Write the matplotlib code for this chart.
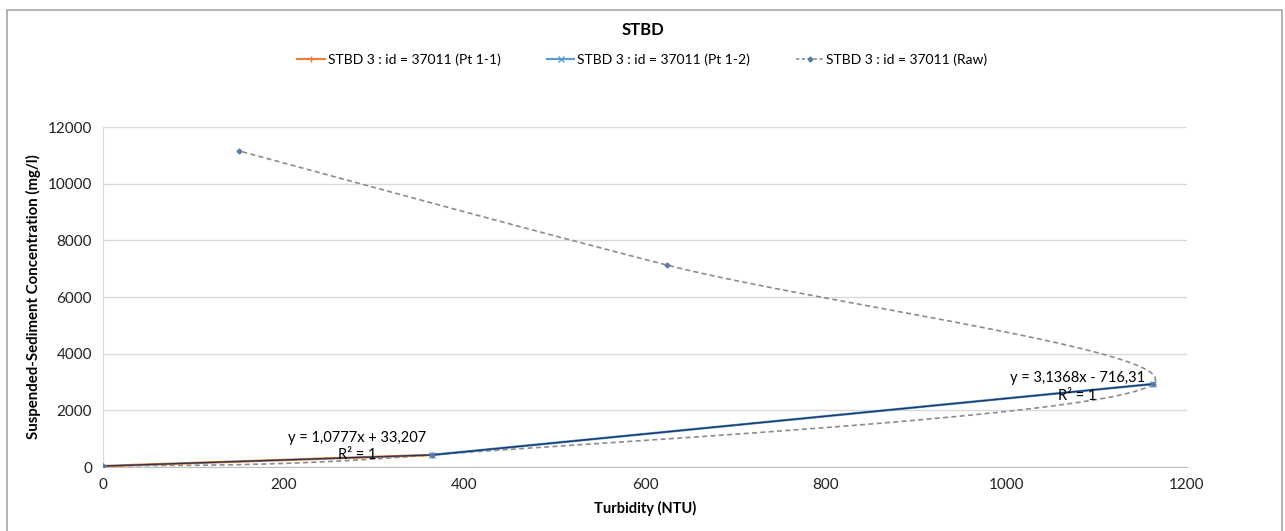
import matplotlib
matplotlib.use('Agg')
import matplotlib.pyplot as plt
from matplotlib.patches import Rectangle
import numpy as np

plt.rcParams['font.family'] = ['Lato', 'DejaVu Sans']

# data
pt11_x = [0, 364]
pt11_y = [33, 425.5]
pt12_x = [364, 1162]
pt12_y = [425.5, 2928.7]
raw_x = [0, 364, 1162, 624, 151]
raw_y = [33, 426, 2929, 7130, 11153]

labels = ['STBD 3 : id = 37011 (Pt 1-1)',
          'STBD 3 : id = 37011 (Pt 1-2)',
          'STBD 3 : id = 37011 (Raw)']
eq_texts = ['y = 1,0777x + 33,207\nR² = 1',
            'y = 3,1368x - 716,31\nR² = 1']


def smooth(xs, ys, sx, sy, n=60):
    """Catmull-Rom curve through the points, computed in screen-like units"""
    p = np.column_stack([np.array(xs) * sx, np.array(ys) * sy])
    p = np.vstack([p[0], p, p[-1]])
    out = []
    for i in range(1, len(p) - 2):
        p0, p1, p2, p3 = p[i - 1], p[i], p[i + 1], p[i + 2]
        t = np.linspace(0, 1, n)[:, None]
        seg = 0.5 * ((2 * p1) + (-p0 + p2) * t +
                     (2 * p0 - 5 * p1 + 4 * p2 - p3) * t ** 2 +
                     (-p0 + 3 * p1 - 3 * p2 + p3) * t ** 3)
        out.append(seg)
    out = np.vstack(out)
    return out[:, 0] / sx, out[:, 1] / sy


fig = plt.figure(figsize=(12.85, 5.31), dpi=100)
ax = fig.add_axes([0.0802, 0.1205, 0.8435, 0.6403])

# chart border
fig.patches.append(Rectangle((7 / 1285, -0.05), 1275 / 1285, 1.05 - 10 / 531,
                             transform=fig.transFigure, fill=False,
                             edgecolor='#A6A6A6', linewidth=1.2))

# raw series, smoothed
sx, sy = 1084 / 1200, 340 / 12000
cx, cy = smooth(raw_x, raw_y, sx, sy)
ax.plot(cx, cy, color='#8C8C8C', linestyle=(0, (3, 2)), linewidth=1.2, zorder=2)
ax.plot(raw_x, raw_y, linestyle='none', marker='D', markersize=2.5,
        color='#5A7BA8', zorder=4)

# point series
ax.plot(pt11_x, pt11_y, color='#ED7D31', linewidth=1.8, marker='+',
        markersize=4, zorder=3)
ax.plot(pt12_x, pt12_y, color='#5B9BD5', linewidth=1.8, marker='x',
        markersize=4, zorder=3)

# linear trendlines
for xs, ys in [(pt11_x, pt11_y), (pt12_x, pt12_y)]:
    k, b = np.polyfit(xs, ys, 1)
    xx = np.array([min(xs), max(xs)])
    ax.plot(xx, k * xx + b, color='#1F3864', linewidth=1.0, zorder=3.5)

ax.text(281, 720, eq_texts[0], ha='center', va='center', fontsize=10.5,
        linespacing=1.3, zorder=5)
ax.text(1079, 2820, eq_texts[1], ha='center', va='center', fontsize=10.5,
        linespacing=1.3, zorder=5)

ax.set_xlim(0, 1200)
ax.set_ylim(0, 12000)
ax.set_xticks(np.arange(0, 1201, 200))
ax.set_yticks(np.arange(0, 12001, 2000))
ax.grid(axis='y', color='#D9D9D9', linewidth=1)
ax.set_axisbelow(True)
ax.tick_params(length=0, labelsize=11, pad=8, colors='#222222')
for s in ['top', 'right']:
    ax.spines[s].set_visible(False)
ax.spines['left'].set_color('#D9D9D9')
ax.spines['bottom'].set_color('#BFBFBF')

ax.set_xlabel('Turbidity (NTU)', fontsize=10.5, fontweight='bold', labelpad=6)
ax.set_ylabel('Suspended-Sediment Concentration (mg/l)', fontsize=10.8,
              fontweight='bold', labelpad=5)

fig.text(0.5, 1 - 30 / 531, 'STBD', ha='center', va='center', fontsize=12,
         fontweight='bold')

handles = [
    plt.Line2D([], [], color='#ED7D31', marker='+', markersize=4, linewidth=1.5),
    plt.Line2D([], [], color='#5B9BD5', marker='x', markersize=4, linewidth=1.5),
    plt.Line2D([], [], color='#8C8C8C', linestyle=(0, (2, 1.5)), marker='D',
               markersize=2.5, markerfacecolor='#5A7BA8',
               markeredgecolor='#5A7BA8', linewidth=1.2),
]
fig.legend(handles, labels, loc='center', bbox_to_anchor=(0.5, 1 - 60 / 531),
           ncol=3, frameon=False, fontsize=10, handlelength=2.0,
           handletextpad=0.2, columnspacing=3.3)

fig.savefig('out.png', dpi=100)
